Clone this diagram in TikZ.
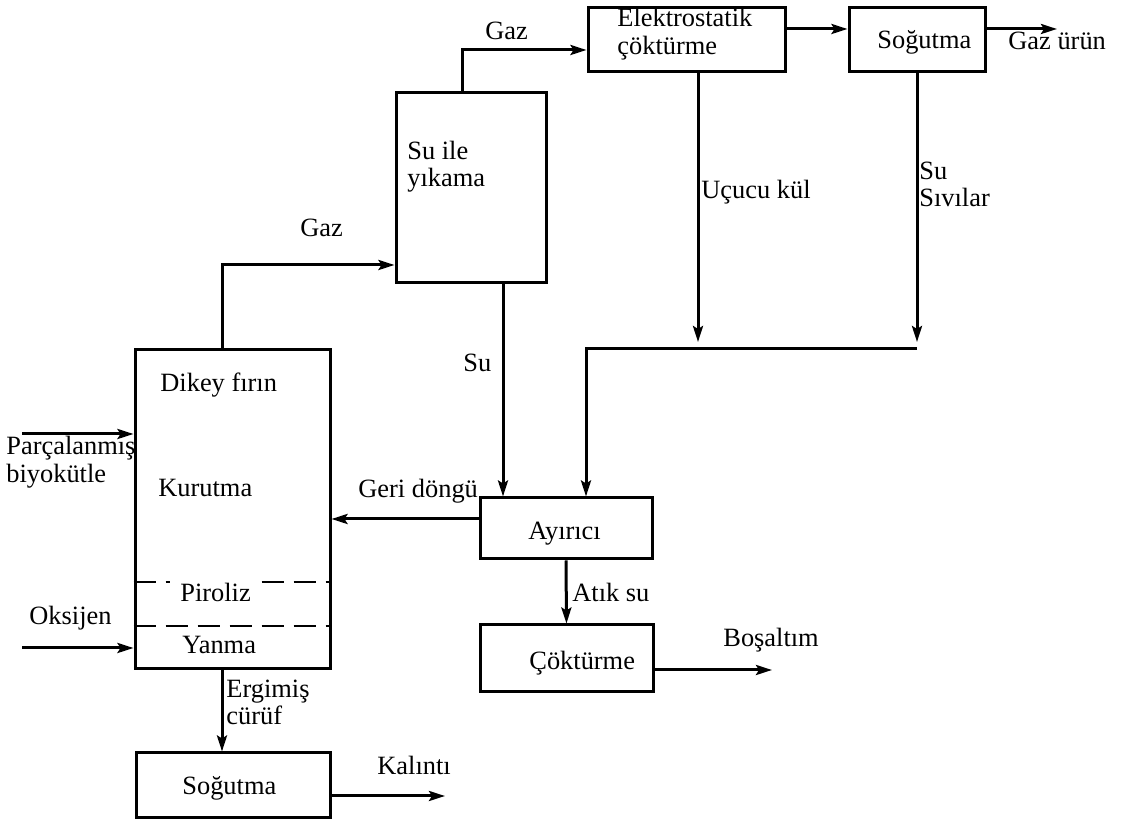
\documentclass[tikz,border=0pt]{standalone}
\usepackage{fontspec}
\setmainfont{Liberation Serif}
\usetikzlibrary{arrows.meta,calc}
\begin{document}
\begin{tikzpicture}[x=0.5pt,y=-0.5pt,
  box/.style={draw,line width=1.5pt,inner sep=0pt},
  pipe/.style={line width=1.5pt},
  flow/.style={pipe,-{Stealth[length=8pt,width=5pt,inset=1.5pt]}},
  lbl/.style={anchor=base west,inner sep=0pt,font=\fontsize{13.2}{15}\selectfont},
  zonelbl/.style={lbl,fill=white,inner xsep=5pt,inner ysep=2pt},
  zone/.style={line width=1.2pt,dash pattern=on 11pt off 5pt}]
\useasboundingbox (0,0) rectangle (1126,822);

% process units
\node[box,minimum width=97.5pt,minimum height=159.5pt] (furnace) at (232.5,509.5) {};
\node[box,minimum width=75pt,minimum height=95pt] (wash) at (471,188) {};
\node[box,minimum width=98.5pt,minimum height=32pt] (esp) at (686.5,40) {};
\node[box,minimum width=68pt,minimum height=32pt] (coolgas) at (917,40) {};
\node[box,minimum width=86pt,minimum height=30.5pt] (sep) at (566,528.5) {};
\node[box,minimum width=86.5pt,minimum height=33.5pt] (settle) at (566.5,658.5) {};
\node[box,minimum width=97pt,minimum height=32.5pt] (coolslag) at (233,785.5) {};

% zones inside the shaft furnace
\draw[zone] (furnace.west |- 0,582) -- (furnace.east |- 0,582);
\draw[zone] (furnace.west |- 0,626) -- (furnace.east |- 0,626);

% texts of the units
\node[lbl] (tfurn) at (160,392) {Dikey fırın};
\node[lbl] (tdry) at (158,497) {Kurutma};
\node[zonelbl] (tpyro) at (170,602) {Piroliz};
\node[zonelbl] (tcomb) at (172,654) {Yanma};
\node[lbl] (twash1) at (407,160) {Su ile};
\node[lbl] (twash2) at (407,187) {yıkama};
\node[lbl] (tesp1) at (617,27) {Elektrostatik};
\node[lbl] (tesp2) at (617,55) {çöktürme};
\node[lbl] (tcoolgas) at (877,49) {Soğutma};
\node[lbl] (tsep) at (528,540) {Ayırıcı};
\node[lbl] (tsettle) at (529,670) {Çöktürme};
\node[lbl] (tcoolslag) at (182,795) {Soğutma};

% free ends of the streams
\coordinate (feedin) at (22,434);
\coordinate (oxin) at (22,648);
\coordinate (gasbend) at (222,265);
\coordinate (washbend) at (462,50);
\coordinate (gasout) at (1057,29);
\coordinate (ashend) at (698,342);
\coordinate (liqend) at (917,342);
\coordinate (mergeR) at (917,349);
\coordinate (mergeL) at (586,349);
\coordinate (recy) at (0,519);
\coordinate (drain) at (772,670);
\coordinate (residue) at (445,796);

% streams
\draw[flow] (feedin) -- (furnace.west |- feedin);
\draw[flow] (oxin) -- (furnace.west |- oxin);
\draw[flow] (furnace.north -| gasbend) -- (gasbend) -- (wash.west |- gasbend);
\draw[flow] (wash.north -| washbend) -- (washbend) -- (esp.west |- washbend);
\draw[flow] (esp.east |- 0,29) -- (coolgas.west |- 0,29);
\draw[flow] (coolgas.east |- gasout) -- (gasout);
\draw[flow] (esp.south -| ashend) -- (ashend);
\draw[flow] (coolgas.south) -- (liqend);
\draw[flow] (mergeR) -- (mergeL) -- (sep.north -| mergeL);
\draw[flow] (wash.south -| 503,0) -- (sep.north -| 503,0);
\draw[flow] (sep.west |- recy) -- (furnace.east |- recy);
\draw[flow] (sep.south) -- (settle.north);
\draw[flow] (settle.east |- drain) -- (drain);
\draw[flow] (furnace.south -| 222,0) -- (coolslag.north -| 222,0);
\draw[flow] (coolslag.east |- residue) -- (residue);

% stream labels
\node[lbl] (lfeed1) at (6,455) {Parçalanmış};
\node[lbl] (lfeed2) at (6,483) {biyokütle};
\node[lbl] (lox) at (29,625) {Oksijen};
\node[lbl] (lgas1) at (300,237) {Gaz};
\node[lbl] (lgas2) at (485,40) {Gaz};
\node[lbl] (lgasout) at (1008,50) {Gaz ürün};
\node[lbl] (lash) at (701,199) {Uçucu kül};
\node[lbl] (lliq1) at (919,180) {Su};
\node[lbl] (lliq2) at (919,207) {Sıvılar};
\node[lbl] (lwater) at (463,372) {Su};
\node[lbl] (lrecy) at (358,498) {Geri döngü};
\node[lbl] (lwaste) at (572,602) {Atık su};
\node[lbl] (ldrain) at (723,647) {Boşaltım};
\node[lbl] (lslag1) at (226,698) {Ergimiş};
\node[lbl] (lslag2) at (226,725) {cürüf};
\node[lbl] (lres) at (377,775) {Kalıntı};
\end{tikzpicture}
\end{document}
